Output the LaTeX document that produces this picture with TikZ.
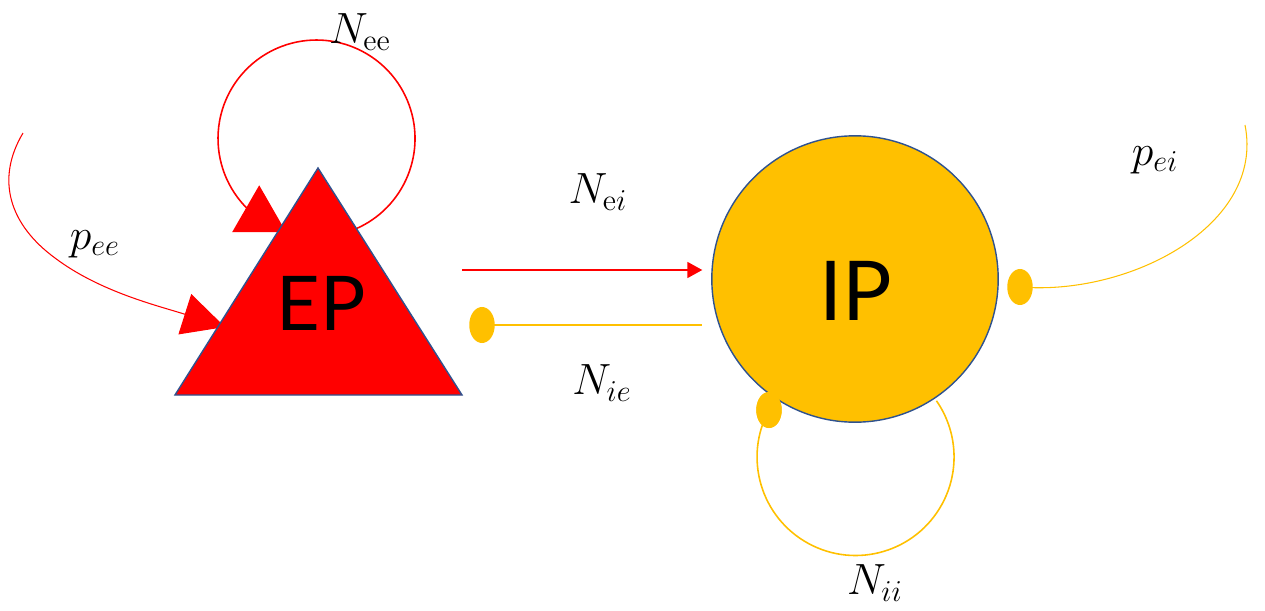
\documentclass[tikz,border=0pt]{standalone}
\usepackage{fontspec}
\newfontfamily\popfont{Lato}
\usepackage{tikz}
\usetikzlibrary{arrows.meta, shapes.geometric, calc}
\definecolor{epred}{HTML}{FF0000}
\definecolor{ipgold}{HTML}{FFC000}
\definecolor{rimblue}{HTML}{2F528F}
\newcommand{\synlbl}[1]{\scalebox{1.2}{#1}}

\begin{document}
\begin{tikzpicture}[
      x=0.02cm, y=0.02cm,
      lbl/.style={inner sep=0pt, font=\huge},
      pop/.style={inner sep=0pt, font=\popfont\fontsize{43}{48}\selectfont},
      inhdot/.style={ellipse, fill=ipgold, inner sep=0pt, minimum width=14.5pt, minimum height=20.5pt},
      ipcircle/.style={circle, draw=rimblue, line width=0.8pt, fill=ipgold, minimum size=163pt, inner sep=0pt},
      exc/.style={draw=epred, line width=0.9pt},
      inh/.style={draw=ipgold, line width=0.9pt},
      >={Triangle[width=9pt, length=8.5pt]},
    ]
    \useasboundingbox (0,0) rectangle (1265,610);

    % excitatory loops, tips hidden behind the EP triangle
    \coordinate (eeStart) at (350.2,378.9);
    \coordinate (eeTip) at (286,378);
    \coordinate (peeStart) at (23,477);
    \coordinate (peeTip) at (225,283);
    \draw[exc, -{Triangle[width=30.6pt, length=26.5pt]}] (eeStart)
      arc[start angle=-70, end angle=220, radius=98.5] to[out=-50, in=150] (eeTip);
    \draw[exc, line width=0.6pt, -{Triangle[width=24pt, length=24pt]}] (peeStart)
      .. controls (-5,430) and (10,385) .. (55,352)
      .. controls (100,318) and (159,304) .. (peeTip);

    % EP population
    \coordinate (epL) at (175,215);
    \coordinate (epR) at (462,215);
    \coordinate (epT) at (318,442);
    \filldraw[fill=epred, draw=rimblue, line width=0.8pt] (epL) -- (epR) -- (epT) -- cycle;
    \node[pop] (ep) at (321,306.5) {EP};

    % IP population
    \node[inhdot] (iidot) at (769,200) {};
    \draw[inh] (iidot.center) arc[start angle=151.5, end angle=394.8, radius=98.5];
    \node[ipcircle] (ip) at (855,331) {};
    \node[pop, font=\popfont\fontsize{47}{52}\selectfont] (iptext) at (856,319) {IP};
    \node[inhdot] at (iidot) {};

    \node[inhdot] (eidot) at (1020,323) {};
    \coordinate (peiEnd) at (1245,485);
    \draw[inh, line width=0.6pt] (eidot.center) .. controls (1130,314) and (1265,385) .. (peiEnd);

    % between the two populations
    \coordinate (eout) at (462,340);
    \node[inhdot] (iedot) at (482,285) {};
    \draw[exc, line width=1.2pt, ->, shorten >=5pt] (eout) -- (eout -| ip.west);
    \draw[inh, line width=0.7pt, shorten >=5pt] (iedot.center) -- (iedot -| ip.west);

    \node[lbl] (nee) at (360,578) {\synlbl{$N_{\mathrm{ee}}$}};
    \node[lbl] (pee) at (95,366) {\synlbl{$p_{ee}$}};
    \node[lbl] (nei) at (598,418) {\synlbl{$N_{\mathrm{e}i}$}};
    \node[lbl] (nie) at (602,227) {\synlbl{$N_{ie}$}};
    \node[lbl] (pei) at (1155,450) {\synlbl{$p_{ei}$}};
    \node[lbl] (nii) at (875,27) {\synlbl{$N_{ii}$}};
  \end{tikzpicture}
\end{document}
